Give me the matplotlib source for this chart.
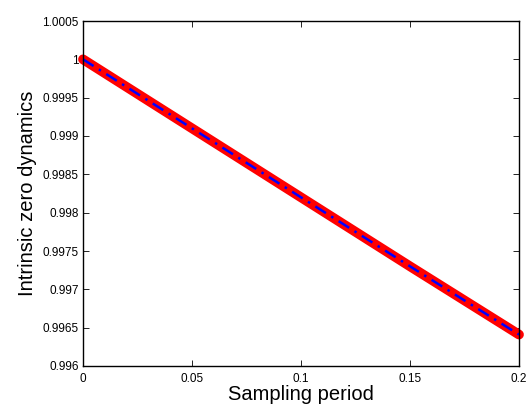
import numpy as np
import matplotlib
matplotlib.use("Agg")
import matplotlib.pyplot as plt

plt.rcParams['font.family'] = ['Liberation Sans', 'DejaVu Sans']

# sampling period vs intrinsic zero dynamics
period = [0.0, 0.05, 0.1, 0.15, 0.2]
zero_exact = [1.0, 0.99910, 0.99820, 0.99730, 0.99641]
zero_approx = [1.0, 0.99910, 0.99820, 0.99730, 0.99641]

x_ticks = [0, 0.05, 0.1, 0.15, 0.2]
x_labels = ["0", "0.05", "0.1", "0.15", "0.2"]
y_ticks = [0.996, 0.9965, 0.997, 0.9975, 0.998, 0.9985, 0.999, 0.9995, 1.0, 1.0005]
y_labels = ["0.996", "0.9965", "0.997", "0.9975", "0.998", "0.9985", "0.999", "0.9995", "1", "1.0005"]

fig = plt.figure(figsize=(5.31, 4.08), dpi=100)
ax = fig.add_axes([83/531, 1 - 366/408, (519-83)/531, (366-21)/408])
ax.plot(period, zero_exact, color="red", lw=7, solid_capstyle="round", clip_on=False)
ax.plot(period, zero_approx, color="blue", lw=1.8, ls=(0, (5, 2.5, 1, 2.5)), clip_on=False)
ax.set_xlim(0, 0.2)
ax.set_ylim(0.996, 1.0005)
ax.set_xticks(x_ticks)
ax.set_xticklabels(x_labels)
ax.set_yticks(y_ticks)
ax.set_yticklabels(y_labels)
ax.tick_params(direction="in", top=True, right=True, labelsize=8.5, length=4, width=0.6)
ax.tick_params(axis="x", pad=5)
ax.tick_params(axis="y", pad=3)
for s in ax.spines.values():
    s.set_linewidth(1.0)
ax.set_xlabel("Sampling period", fontsize=14.5, labelpad=0)
ax.set_ylabel("Intrinsic zero dynamics", fontsize=14.5, labelpad=4)
fig.savefig("out.png", dpi=100)
